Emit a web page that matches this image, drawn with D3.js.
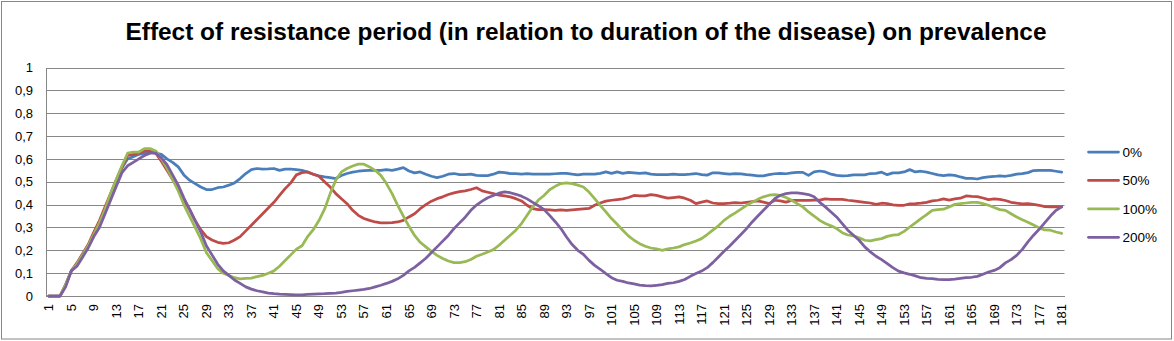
<!DOCTYPE html>
<html>
<head>
<meta charset="utf-8">
<script src="https://cdn.jsdelivr.net/npm/d3@7"></script>
<style>
  html, body { margin: 0; padding: 0; background: #fff; }
  svg { display: block; }
</style>
</head>
<body>
<script>
const titleText = "Effect of resistance period (in relation to duration of the disease) on prevalence";
const seriesNames = ["0%", "50%", "100%", "200%"];
const seriesColors = ["#4a7ebb", "#be4b48", "#98b954", "#7d60a0"];
const yTicks = [0, 0.1, 0.2, 0.3, 0.4, 0.5, 0.6, 0.7, 0.8, 0.9, 1];
const categories = d3.range(1, 182);
const xTickLabels = d3.range(1, 182, 4);

const s0 = [0,0,0,0.05,0.11,0.14,0.18,0.22,0.27,0.32,0.38,0.44,0.50,0.56,
0.60,0.61,0.62,0.625,0.63,0.625,
0.62,0.60,0.585,0.565,0.53,0.507,0.492,0.477,0.466,0.466,
0.474,0.477,0.485,0.495,0.514,0.536,0.553,0.558,0.555,0.556,
0.558,0.55,0.555,0.555,0.553,0.55,0.542,0.533,0.526,0.521,
0.518,0.514,0.527,0.536,0.542,0.546,0.549,0.55,0.55,0.55,
0.553,0.55,0.555,0.562,0.547,0.539,0.543,0.533,0.524,0.518,
0.524,0.533,0.536,0.531,0.531,0.533,0.528,0.527,0.527,0.533,
0.542,0.54,0.536,0.536,0.533,0.536,0.533,0.533,0.533,0.533,
0.535,0.537,0.537,0.533,0.530,0.533,0.533,0.533,0.537,0.543,
0.537,0.543,0.537,0.541,0.539,0.537,0.539,0.533,0.531,0.531,
0.531,0.533,0.531,0.531,0.533,0.536,0.531,0.529,0.539,0.539,
0.536,0.533,0.536,0.534,0.531,0.529,0.526,0.526,0.531,0.535,
0.537,0.535,0.539,0.541,0.541,0.528,
0.543,0.547,0.543,0.533,
0.528,0.526,0.527,0.53,0.53,0.53,0.536,0.537,0.542,0.531,
0.539,0.539,0.543,0.553,0.543,0.546,0.542,0.536,0.53,0.527,
0.53,0.528,0.521,0.515,0.515,0.512,0.518,0.521,0.523,0.526,
0.524,0.528,0.533,0.536,0.54,0.549,0.55,0.55,0.55,0.546,0.542];

const s1 = [0,0,0,0.05,0.11,0.145,0.185,0.225,0.28,0.33,0.39,0.45,0.51,0.565,
0.615,0.62,0.625,0.635,0.635,0.625,
0.59,0.55,0.51,0.47,0.42,0.38,0.33,0.29,0.26,0.245,
0.235,0.23,0.233,0.245,0.26,0.285,0.31,0.335,0.36,0.385,
0.41,0.44,0.47,0.495,0.53,0.54,0.543,0.533,0.524,0.50,
0.477,0.448,0.426,0.404,0.375,0.353,0.339,0.331,0.324,0.32,
0.32,0.321,0.324,0.331,0.346,0.36,0.382,0.40,0.415,0.426,
0.434,0.444,0.451,0.457,0.46,0.466,0.474,0.46,0.454,0.448,
0.441,0.438,0.434,0.426,0.416,0.397,0.382,0.378,0.378,0.377,
0.375,0.377,0.375,0.377,0.379,0.381,0.383,0.397,0.407,0.415,
0.419,0.422,0.425,0.431,0.44,0.438,0.438,0.444,0.44,0.434,
0.428,0.431,0.434,0.428,0.419,0.404,0.411,0.416,0.407,0.404,
0.404,0.406,0.409,0.407,0.41,0.413,0.416,0.411,0.404,0.419,
0.416,0.411,0.418,0.419,0.419,0.419,
0.42,0.42,0.425,0.423,
0.423,0.423,0.419,0.416,0.413,0.41,0.407,0.401,0.406,0.404,
0.399,0.397,0.397,0.403,0.404,0.406,0.41,0.416,0.419,0.425,
0.42,0.425,0.428,0.438,0.436,0.435,0.429,0.422,0.425,0.423,
0.418,0.41,0.406,0.403,0.404,0.401,0.397,0.391,0.39,0.39,0.39];

const s2 = [0,0,0,0.05,0.11,0.14,0.18,0.22,0.27,0.32,0.38,0.45,0.51,0.57,
0.625,0.63,0.63,0.645,0.645,0.635,
0.60,0.56,0.51,0.46,0.40,0.35,0.30,0.25,0.19,0.155,
0.12,0.10,0.09,0.08,0.075,0.077,0.078,0.085,0.09,0.10,
0.11,0.13,0.155,0.18,0.205,0.22,0.26,0.29,0.33,0.38,
0.448,0.507,0.543,0.558,0.569,0.577,0.577,0.565,0.55,0.528,
0.492,0.448,0.397,0.35,0.305,0.265,0.235,0.215,0.195,0.178,
0.164,0.153,0.146,0.146,0.15,0.16,0.174,0.183,0.193,0.203,
0.222,0.244,0.266,0.288,0.317,0.353,0.39,0.42,0.44,0.465,
0.48,0.492,0.495,0.492,0.485,0.477,0.455,0.426,0.397,0.368,
0.339,0.314,0.288,0.263,0.244,0.229,0.218,0.21,0.206,0.20,
0.206,0.21,0.215,0.225,0.232,0.241,0.251,0.269,0.288,0.307,
0.331,0.349,0.364,0.38,0.397,0.41,0.423,0.434,0.441,0.444,
0.44,0.431,0.419,0.404,0.39,0.368,
0.35,0.331,0.317,0.307,
0.295,0.277,0.267,0.263,0.255,0.244,0.241,0.247,0.251,0.261,
0.266,0.269,0.283,0.302,0.32,0.339,0.356,0.375,0.378,0.38,
0.39,0.401,0.404,0.407,0.41,0.41,0.404,0.397,0.387,0.378,
0.375,0.36,0.346,0.334,0.323,0.311,0.298,0.289,0.288,0.28,0.274];

const s3 = [0,0,0,0.04,0.11,0.13,0.17,0.21,0.26,0.30,0.36,0.42,0.48,0.54,
0.57,0.585,0.60,0.615,0.625,0.625,
0.605,0.575,0.53,0.485,0.43,0.38,0.33,0.28,0.22,0.18,
0.14,0.11,0.09,0.07,0.055,0.04,0.03,0.023,0.018,0.013,
0.01,0.008,0.007,0.006,0.005,0.005,0.007,0.008,0.009,0.01,
0.012,0.013,0.016,0.02,0.023,0.026,0.029,0.033,0.04,0.047,
0.055,0.064,0.075,0.09,0.11,0.125,0.145,0.165,0.19,0.215,
0.24,0.265,0.295,0.32,0.345,0.375,0.398,0.415,0.43,0.44,
0.45,0.456,0.452,0.445,0.437,0.425,0.41,0.395,0.378,0.353,
0.325,0.295,0.258,0.225,0.20,0.182,0.156,0.134,0.117,0.098,
0.08,0.069,0.064,0.057,0.053,0.048,0.045,0.044,0.047,0.05,
0.055,0.058,0.064,0.072,0.086,0.098,0.109,0.124,0.146,0.171,
0.196,0.219,0.244,0.269,0.295,0.324,0.35,0.375,0.40,0.426,
0.441,0.448,0.451,0.451,0.448,0.444,
0.434,0.41,0.39,0.368,
0.346,0.317,0.288,0.266,0.244,0.215,0.193,0.174,0.159,0.142,
0.124,0.109,0.101,0.095,0.088,0.08,0.077,0.076,0.073,0.072,
0.072,0.074,0.077,0.08,0.082,0.086,0.095,0.105,0.112,0.124,
0.145,0.159,0.178,0.204,0.237,0.266,0.292,0.321,0.35,0.375,0.39];

const seriesValues = [s0, s1, s2, s3];

const W = 1174, H = 341;
const plot = { left: 46, right: 1064.5, top: 67.5, bottom: 296 };
const fontFamily = "'Liberation Sans', Arial, sans-serif";

const svg = d3.select("body").append("svg").attr("width", W).attr("height", H);

svg.append("rect").attr("x", 1.5).attr("y", 1.5).attr("width", 1170).attr("height", 337.5)
  .attr("fill", "#fff").attr("stroke", "#868686").attr("stroke-width", 1);

const x = d3.scaleBand().domain(categories).range([plot.left, plot.right]).padding(0);
const y = d3.scaleLinear().domain([0, 1]).range([plot.bottom, plot.top]);

// gridlines
svg.append("g").selectAll("line").data(yTicks).join("line")
  .attr("x1", plot.left).attr("x2", plot.right)
  .attr("y1", d => Math.round(y(d)) + 0.5).attr("y2", d => Math.round(y(d)) + 0.5)
  .attr("stroke", "#878787").attr("stroke-width", 1);

// y axis
const yAxis = d3.axisLeft(y).tickValues(yTicks).tickSize(0).tickPadding(13)
  .tickFormat(d => d3.format(".1~f")(d).replace(".", ","));
const gy = svg.append("g").attr("transform", `translate(${plot.left},0)`).call(yAxis);
gy.select(".domain").attr("stroke", "#878787");
gy.selectAll("text").attr("font-family", fontFamily)
  .attr("font-size", 13).attr("fill", "#000");

// x axis
const xAxis = d3.axisBottom(x).tickValues(xTickLabels).tickSize(0).tickPadding(6);
const gx = svg.append("g").attr("transform", `translate(0,${plot.bottom})`).call(xAxis);
gx.select(".domain").attr("stroke", "#878787");
gx.selectAll("text")
  .attr("font-family", fontFamily).attr("font-size", 13).attr("fill", "#000")
  .attr("transform", "rotate(-90)").attr("text-anchor", "end")
  .attr("x", -8).attr("y", 0).attr("dy", "0.35em");

// lines
const line = d3.line().x((d, i) => x(categories[i]) + x.bandwidth() / 2).y(d => y(d));
svg.append("g").selectAll("path").data(seriesValues).join("path")
  .attr("d", d => line(d)).attr("fill", "none")
  .attr("stroke", (d, i) => seriesColors[i]).attr("stroke-width", 2.75)
  .attr("stroke-linejoin", "round").attr("stroke-linecap", "round");

// title
svg.append("text").attr("x", 586).attr("y", 40).attr("text-anchor", "middle")
  .attr("font-family", fontFamily).attr("font-weight", "bold")
  .attr("font-size", 23).attr("textLength", 921).attr("lengthAdjust", "spacingAndGlyphs")
  .attr("fill", "#000").text(titleText);

// legend
const legendY = d3.scalePoint().domain(seriesNames).range([152, 237.3]);
const lg = svg.append("g").selectAll("g").data(seriesNames).join("g")
  .attr("transform", d => `translate(1088.5,${legendY(d)})`);
lg.append("line").attr("x1", 0).attr("x2", 30).attr("y1", 0).attr("y2", 0)
  .attr("stroke", (d, i) => seriesColors[i]).attr("stroke-width", 2.75).attr("stroke-linecap", "round");
lg.append("text").attr("x", 34).attr("y", 0).attr("dy", "0.35em")
  .attr("font-family", fontFamily).attr("font-size", 13.5).attr("fill", "#000")
  .text(d => d);
</script>
</body>
</html>
